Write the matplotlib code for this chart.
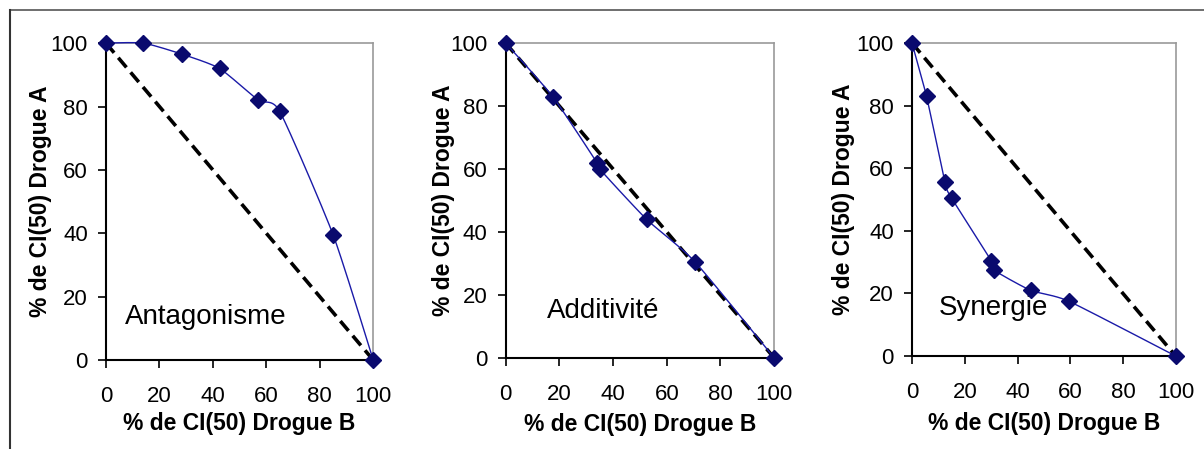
import matplotlib as mpl
import matplotlib.pyplot as plt
import numpy as np
from matplotlib.lines import Line2D

mpl.rc('font', family=['Liberation Sans', 'DejaVu Sans'])

titles = ['Antagonisme', 'Additivité', 'Synergie']

antag_b = [0, 14, 28.5, 42.5, 57, 65, 85, 100]
antag_a = [100, 100, 96.5, 92, 82, 78.5, 39.5, 0]
addit_b = [0, 17.5, 34, 35, 52.5, 70.5, 100]
addit_a = [100, 83, 62, 60, 44, 30.5, 0]
syner_b = [0, 5.5, 12.5, 15, 30, 31, 45, 59.5, 100]
syner_a = [100, 83, 55.5, 50.5, 30.5, 27.5, 21, 17.5, 0]

ref_b = [0, 100]
ref_a = [100, 0]

ticks = [0, 20, 40, 60, 80, 100]

series = [(antag_b, antag_a), (addit_b, addit_a), (syner_b, syner_a)]
text_pos = [(7, 13.5), (15.5, 15), (10, 15.5)]
boxes = [[0.088, 0.198, 0.222, 0.706],
         [0.420, 0.203, 0.223, 0.701],
         [0.7575, 0.207, 0.219, 0.697]]
ylab_x = [-0.20, -0.19, -0.215]
xlab_y = [-0.165, -0.175, -0.18]


def smooth(x, y, n=20, k=10.0):
    # bezier smoothing through the points, like the spreadsheet "smoothed line"
    x = np.asarray(x, float)
    y = np.asarray(y, float)
    px = np.concatenate([[x[0]], x, [x[-1]]])
    py = np.concatenate([[y[0]], y, [y[-1]]])
    xs, ys = [], []
    t = np.linspace(0, 1, n)
    for i in range(1, len(px) - 2):
        p0, p1, p2, p3 = [np.array([px[j], py[j]]) for j in (i - 1, i, i + 1, i + 2)]
        c1 = p1 + (p2 - p0) / k
        c2 = p2 - (p3 - p1) / k
        pts = ((1 - t) ** 3)[:, None] * p1 + (3 * (1 - t) ** 2 * t)[:, None] * c1 \
            + (3 * (1 - t) * t ** 2)[:, None] * c2 + (t ** 3)[:, None] * p2
        xs.extend(pts[:, 0])
        ys.extend(pts[:, 1])
    return xs, ys


fig = plt.figure(figsize=(12.04, 4.49), dpi=100)

for i in range(3):
    ax = fig.add_axes(boxes[i])
    bx, ay = series[i]
    sx, sy = smooth(bx, ay)
    ax.plot(ref_b, ref_a, color='black', lw=2.6, dashes=(3.5, 1.8), zorder=2)
    ax.plot(sx, sy, color='#1a1aa8', lw=1.0, zorder=3, clip_on=False)
    ax.plot(bx, ay, ls='none', marker='D', ms=8.5, color='#0a0a6e', zorder=4, clip_on=False)
    ax.set_xlim(0, 100)
    ax.set_ylim(0, 100)
    ax.set_xticks(ticks)
    ax.set_yticks(ticks)
    ax.tick_params(direction='out', length=6, width=1.2, labelsize=16, colors='black')
    ax.tick_params(axis='x', pad=13)
    ax.tick_params(axis='y', pad=7)
    for s in ['left', 'bottom']:
        ax.spines[s].set_color('black')
        ax.spines[s].set_linewidth(1.5)
    for s in ['top', 'right']:
        ax.spines[s].set_color('#999999')
        ax.spines[s].set_linewidth(1.2)
    ax.set_xlabel('% de CI(50) Drogue B', fontsize=16.5, fontweight='bold')
    ax.set_ylabel('% de CI(50) Drogue A', fontsize=16.5, fontweight='bold')
    ax.xaxis.set_label_coords(0.5, xlab_y[i])
    ax.yaxis.set_label_coords(ylab_x[i], 0.5)
    ax.text(text_pos[i][0], text_pos[i][1], titles[i], fontsize=20, va='center', ha='left')

# outer frame lines
fig.add_artist(Line2D([10 / 1204, 1], [1 - 10 / 449, 1 - 10 / 449], color='#555555', lw=1.2))
fig.add_artist(Line2D([10 / 1204, 10 / 1204], [0, 1 - 10 / 449], color='#333333', lw=1.5))

plt.savefig('out.png', dpi=100)
